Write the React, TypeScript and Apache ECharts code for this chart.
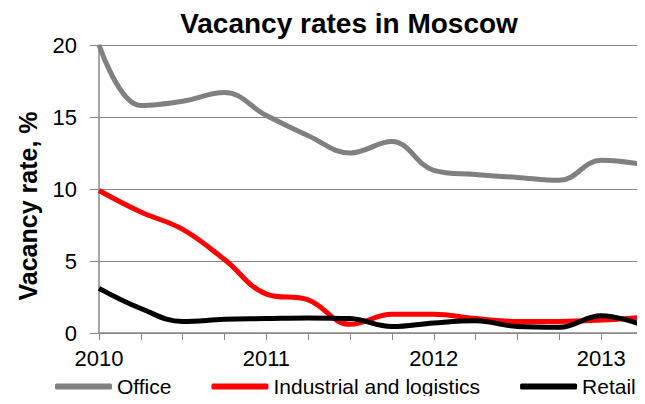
import React, { useEffect, useRef } from "react";
import * as echarts from "echarts";

const quarters = [
  "2010Q1", "2010Q2", "2010Q3", "2010Q4",
  "2011Q1", "2011Q2", "2011Q3", "2011Q4",
  "2012Q1", "2012Q2", "2012Q3", "2012Q4",
  "2013Q1", "2013Q2",
];
const office = [20, 15.8, 16.1, 16.7, 15.1, 13.7, 12.5, 13.3, 11.3, 11.0, 10.8, 10.6, 12.0, 11.7];
const industrial = [9.9, 8.4, 7.2, 5.1, 2.7, 2.3, 0.6, 1.3, 1.3, 1.0, 0.8, 0.8, 0.9, 1.1];
const retail = [3.1, 1.7, 0.8, 0.95, 1.0, 1.05, 1.0, 0.45, 0.7, 0.85, 0.45, 0.4, 1.2, 0.55];

const FONT = "Liberation Sans, Arial, sans-serif";

export default function App() {
  const ref = useRef<HTMLDivElement>(null);
  useEffect(() => {
    if (!ref.current) return;
    const chart = echarts.init(ref.current, undefined, { renderer: "svg" });
    const mk = (name: string, data: number[], color: string) => ({
      name,
      type: "line",
      data,
      smooth: 0.4,
      symbol: "none",
      lineStyle: { color, width: 5 },
      itemStyle: { color },
    });
    chart.setOption({
      animation: false,
      backgroundColor: "#ffffff",
      textStyle: { fontFamily: FONT },
      title: {
        text: "Vacancy rates in Moscow",
        left: 349,
        textAlign: "center",
        top: 9,
        padding: 0,
        textStyle: { fontFamily: FONT, fontSize: 28, fontWeight: "bold", color: "#000" },
      },
      graphic: [
        {
          type: "text",
          x: 28,
          y: 206,
          rotation: Math.PI / 2,
          style: {
            text: "Vacancy rate, %",
            fontFamily: FONT,
            fontSize: 25,
            fontWeight: "bold",
            fill: "#000",
            align: "center",
            verticalAlign: "middle",
          },
        },
      ],
      grid: { left: 99, right: 2, top: 45, bottom: 71, containLabel: false },
      legend: {
        top: 376,
        left: 55,
        padding: 0,
        icon: "roundRect",
        itemWidth: 57,
        itemHeight: 6,
        itemGap: 40,
        textStyle: { fontFamily: FONT, fontSize: 21, color: "#000" },
        data: ["Office", "Industrial and logistics", "Retail"],
      },
      xAxis: {
        type: "category",
        data: quarters,
        boundaryGap: false,
        axisLine: { lineStyle: { color: "#888888", width: 1.5 } },
        axisTick: { show: true, interval: 0, length: 7, lineStyle: { color: "#888888" } },
        axisLabel: {
          interval: 3,
          formatter: (v: string) => v.slice(0, 4),
          fontFamily: FONT,
          fontSize: 22,
          color: "#000",
          margin: 14,
        },
        splitLine: { show: false },
      },
      yAxis: {
        type: "value",
        min: 0,
        max: 20,
        interval: 5,
        axisLine: { show: true, lineStyle: { color: "#888888", width: 1.5 } },
        axisTick: { show: true, length: 9, lineStyle: { color: "#888888" } },
        axisLabel: { fontFamily: FONT, fontSize: 22, color: "#000", margin: 22 },
        splitLine: { show: true, lineStyle: { color: "#888888", width: 1 } },
      },
      series: [
        mk("Office", office, "#808080"),
        mk("Industrial and logistics", industrial, "#ff0000"),
        mk("Retail", retail, "#000000"),
      ],
    });
    return () => chart.dispose();
  }, []);
  return <div ref={ref} style={{ width: 645, height: 404, margin: -8 }} />;
}
